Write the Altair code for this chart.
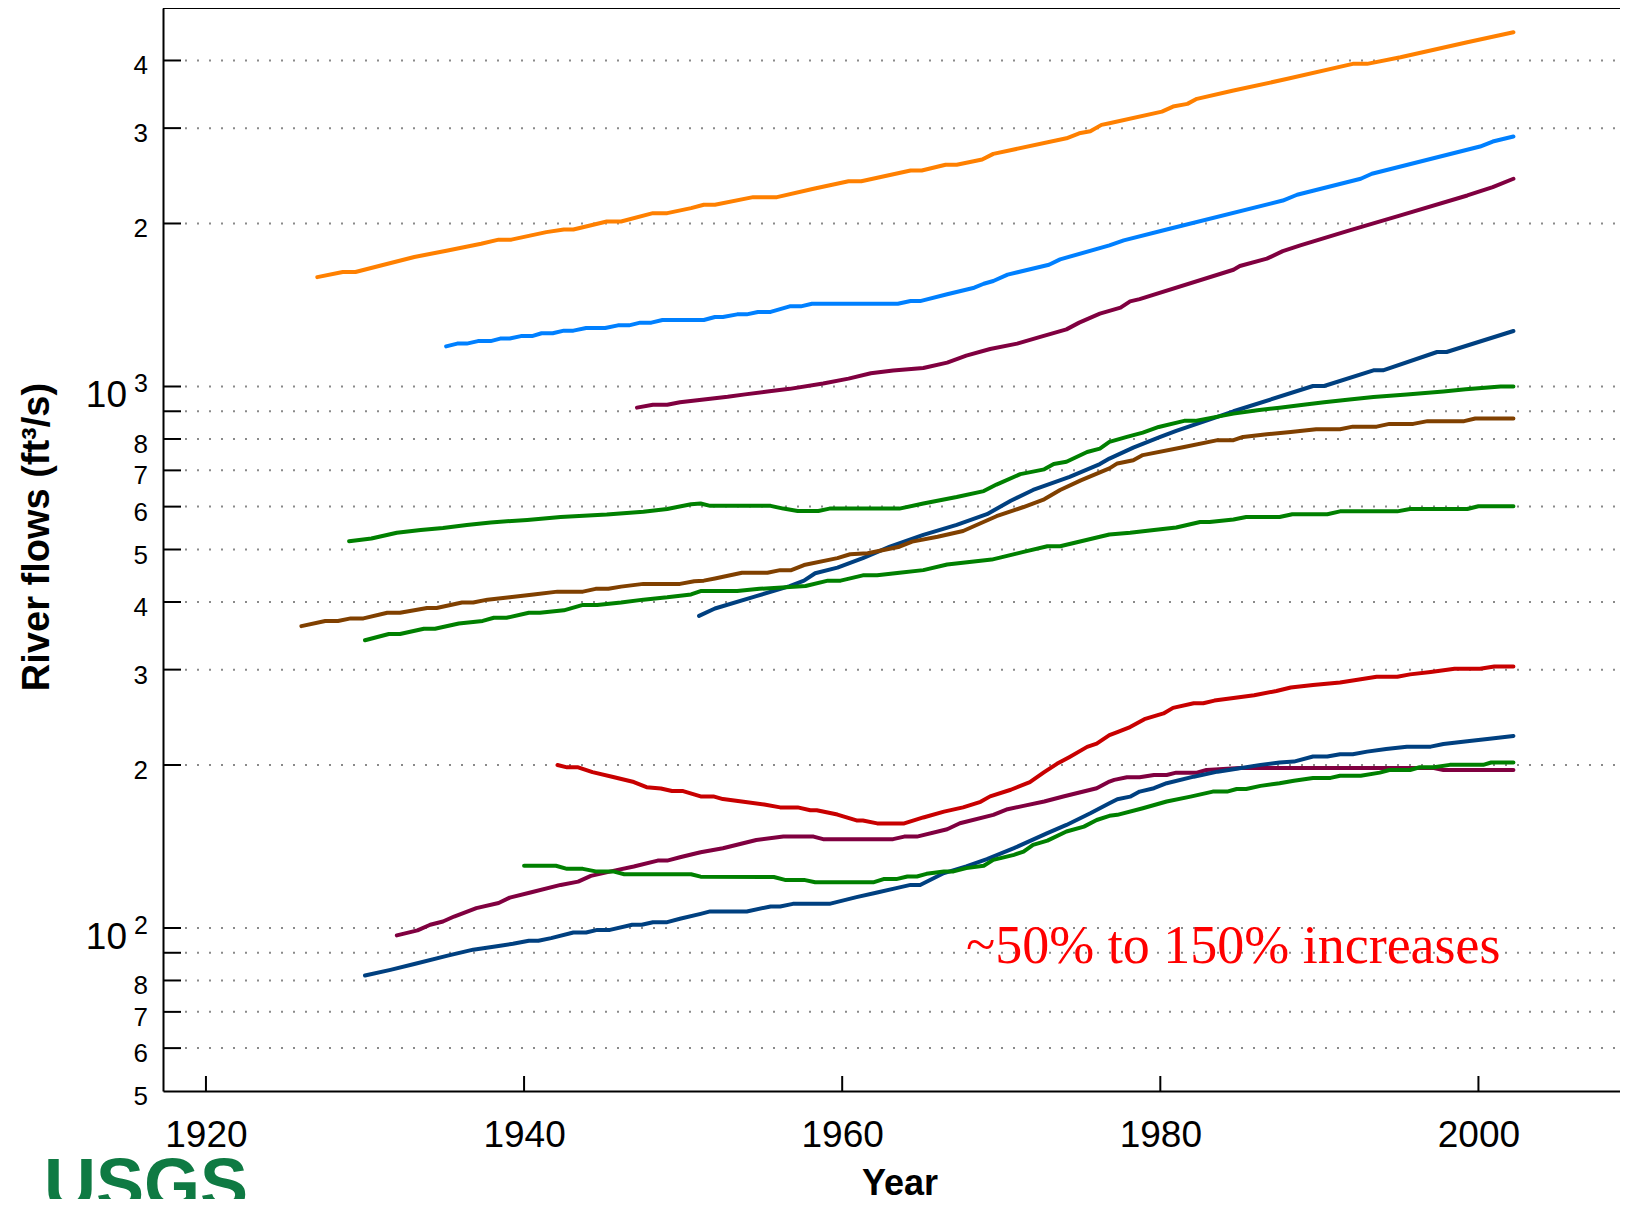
import altair as alt
import pandas as pd

# ---------------- data ----------------
names = ["S1", "S2", "S3", "S4", "S5", "S6", "S7", "S8", "S9", "S10", "S11"]
colors = ["#FF8000", "#0080FF", "#800040", "#004080", "#008000", "#804000",
          "#008000", "#C80000", "#800040", "#004080", "#008000"]

s1_years = [1927.0, 1928.6, 1929.4, 1931.0, 1933.1, 1935.2, 1937.3, 1938.4, 1939.2, 1941.4, 1942.5, 1943.1,
            1945.2, 1946.1, 1948.1, 1949.0, 1950.5, 1951.3, 1952.0, 1954.4, 1955.9, 1958.2, 1960.4, 1961.2,
            1964.3, 1965.0, 1966.5, 1967.2, 1968.8, 1969.5, 1974.1, 1974.9, 1975.6, 1976.3, 1976.8, 1980.1,
            1980.8, 1981.7, 1982.3, 1984.6, 1988.0, 1992.1, 1993.0, 1995.1, 1999.3, 2002.2]
s1_flows = [1592, 1627, 1627, 1673, 1734, 1783, 1835, 1867, 1867, 1928, 1950, 1950,
            2017, 2017, 2090, 2090, 2135, 2166, 2166, 2237, 2237, 2318, 2394, 2394,
            2506, 2506, 2567, 2567, 2625, 2689, 2873, 2935, 2960, 3042, 3063, 3218,
            3288, 3326, 3398, 3520, 3700, 3943, 3943, 4055, 4322, 4510]

s2_years = [1935.1, 1935.8, 1936.4, 1937.1, 1937.9, 1938.5, 1939.1, 1939.8, 1940.5, 1941.1, 1941.8, 1942.5,
            1943.1, 1943.9, 1945.1, 1945.9, 1946.6, 1947.3, 1948.0, 1948.7, 1951.3, 1952.0, 1952.5, 1953.4,
            1954.0, 1954.7, 1955.5, 1956.7, 1957.4, 1958.1, 1963.5, 1964.3, 1964.9, 1966.6, 1968.3, 1968.9,
            1969.5, 1970.4, 1973.0, 1973.7, 1976.8, 1977.7, 1980.4, 1987.7, 1988.6, 1992.6, 1993.3, 2000.1,
            2000.9, 2002.2]
s2_flows = [1186, 1200, 1200, 1213, 1213, 1226, 1226, 1239, 1239, 1254, 1254, 1268,
            1268, 1282, 1282, 1297, 1297, 1312, 1312, 1327, 1327, 1344, 1344, 1359,
            1359, 1373, 1373, 1406, 1406, 1422, 1422, 1438, 1438, 1480, 1522, 1548,
            1566, 1609, 1678, 1717, 1822, 1861, 1950, 2205, 2260, 2419, 2471, 2774,
            2834, 2895]

s3_years = [1947.1, 1948.1, 1949.0, 1949.8, 1951.3, 1952.8, 1953.9, 1955.3, 1956.7, 1958.8, 1960.4, 1961.8,
            1963.2, 1965.1, 1966.6, 1967.8, 1969.3, 1971.0, 1972.4, 1974.1, 1974.9, 1976.2, 1977.5, 1978.1,
            1978.7, 1984.6, 1985.0, 1986.7, 1987.7, 1988.8, 1991.9, 1995.1, 1999.3, 2000.9, 2002.2]
s3_flows = [914, 925, 925, 935, 946, 957, 967, 979, 990, 1013, 1034, 1058,
            1070, 1082, 1107, 1140, 1173, 1200, 1234, 1275, 1312, 1363, 1398, 1436,
            1450, 1643, 1669, 1722, 1778, 1822, 1942, 2070, 2253, 2334, 2419]

s4_years = [1951.0, 1952.0, 1954.6, 1956.7, 1957.6, 1958.3, 1959.7, 1961.3, 1963.0, 1965.1, 1967.2, 1969.1,
            1970.6, 1972.0, 1974.3, 1976.2, 1976.8, 1978.3, 1980.0, 1981.0, 1984.6, 1989.6, 1990.3, 1993.4,
            1994.0, 1997.4, 1998.0, 2002.2]
s4_flows = [377, 389, 410, 428, 438, 452, 463, 482, 506, 532, 555, 581,
            615, 644, 681, 719, 736, 771, 807, 828, 900, 1002, 1002, 1071,
            1071, 1158, 1158, 1266]

s5_years = [1929.0, 1930.4, 1932.0, 1933.5, 1934.9, 1936.4, 1937.9, 1940.2, 1942.3, 1945.2, 1947.5, 1949.0,
            1950.5, 1951.1, 1951.7, 1955.5, 1956.3, 1957.2, 1958.5, 1959.2, 1963.6, 1965.1, 1967.2, 1968.9,
            1969.7, 1971.2, 1972.7, 1973.3, 1974.1, 1975.4, 1976.2, 1976.8, 1977.9, 1978.9, 1979.9, 1981.5,
            1982.2, 1984.6, 1986.1, 1987.5, 1989.0, 1990.3, 1991.9, 1993.4, 1995.5, 1997.8, 1999.2, 2001.4,
            2002.2]
s5_flows = [518, 524, 537, 543, 548, 555, 561, 567, 574, 580, 587, 594,
            606, 608, 602, 602, 595, 589, 589, 595, 595, 608, 625, 641,
            659, 689, 703, 719, 726, 757, 768, 790, 807, 822, 842, 864,
            864, 891, 904, 914, 925, 935, 946, 956, 967, 979, 988, 1000,
            1000]

s6_years = [1926.0, 1927.5, 1928.3, 1929.1, 1929.9, 1931.4, 1932.2, 1933.9, 1934.5, 1936.1, 1936.8, 1937.7,
            1939.1, 1940.6, 1942.1, 1943.7, 1944.5, 1945.3, 1946.1, 1947.5, 1949.8, 1950.7, 1951.3, 1952.0,
            1953.7, 1955.3, 1956.1, 1956.8, 1957.6, 1959.7, 1960.5, 1961.6, 1963.6, 1964.4, 1966.0, 1967.6,
            1968.7, 1969.7, 1971.4, 1972.7, 1973.7, 1975.0, 1976.8, 1977.3, 1978.3, 1978.9, 1981.5, 1983.6,
            1984.6, 1985.2, 1986.7, 1988.2, 1989.8, 1991.3, 1992.1, 1993.6, 1994.4, 1995.9, 1996.8, 1999.1,
            1999.8, 2002.2]
s6_flows = [361, 369, 369, 373, 373, 382, 382, 390, 390, 399, 399, 404,
            408, 413, 418, 418, 423, 423, 427, 432, 432, 437, 438, 442,
            453, 453, 458, 458, 468, 482, 490, 492, 506, 517, 528, 541,
            559, 576, 599, 619, 644, 671, 706, 721, 731, 747, 773, 796,
            796, 807, 816, 824, 834, 834, 843, 843, 853, 853, 863, 863,
            873, 873]

s7_years = [1930.0, 1931.5, 1932.2, 1933.7, 1934.4, 1935.9, 1937.4, 1938.1, 1938.9, 1940.3, 1941.0, 1942.5,
            1943.7, 1944.6, 1946.1, 1947.5, 1949.0, 1950.5, 1951.1, 1953.4, 1954.8, 1957.7, 1959.1, 1959.9,
            1961.3, 1962.2, 1963.6, 1965.1, 1966.6, 1968.0, 1969.4, 1971.4, 1972.9, 1973.7, 1976.8, 1978.1,
            1979.6, 1981.0, 1982.5, 1983.1, 1984.6, 1985.4, 1987.5, 1988.3, 1990.5, 1991.3, 1994.9, 1995.7,
            1999.3, 2000.0, 2002.2]
s7_flows = [340, 349, 349, 357, 357, 365, 369, 374, 374, 382, 382, 386,
            395, 395, 399, 404, 408, 413, 419, 419, 423, 428, 438, 438,
            448, 448, 453, 458, 469, 474, 479, 495, 507, 507, 533, 537,
            543, 549, 562, 562, 568, 574, 574, 581, 581, 588, 588, 594,
            594, 601, 601]

s8_years = [1942.1, 1942.7, 1943.4, 1944.3, 1945.6, 1946.9, 1947.7, 1948.6, 1949.3, 1950.0, 1951.1, 1951.9,
            1952.5, 1953.8, 1955.1, 1956.1, 1957.2, 1958.0, 1958.4, 1959.7, 1960.9, 1961.3, 1962.2, 1963.9,
            1965.1, 1966.4, 1967.6, 1968.7, 1969.3, 1970.6, 1971.8, 1972.7, 1973.5, 1974.3, 1975.4, 1976.0,
            1976.8, 1977.3, 1978.1, 1979.0, 1980.2, 1980.8, 1982.1, 1982.7, 1983.4, 1984.6, 1985.9, 1987.3,
            1988.2, 1989.6, 1991.3, 1992.6, 1993.6, 1994.9, 1995.7, 1997.0, 1998.5, 2000.1, 2001.0, 2002.2]
s8_flows = [200, 198, 198, 194, 190, 186, 182, 181, 179, 179, 175, 175,
            173, 171, 169, 167, 167, 165, 165, 162, 158, 158, 156, 156,
            160, 164, 167, 171, 175, 180, 186, 194, 201, 207, 216, 219,
            227, 230, 235, 243, 249, 255, 260, 260, 263, 266, 269, 274,
            278, 281, 284, 288, 291, 291, 294, 297, 301, 301, 304, 304]

s9_years = [1932.0, 1933.3, 1934.1, 1934.9, 1935.6, 1937.0, 1938.4, 1939.1, 1940.4, 1942.3, 1943.4, 1944.2,
            1945.6, 1946.9, 1948.4, 1949.0, 1949.8, 1951.1, 1952.5, 1954.6, 1956.3, 1958.2, 1958.8, 1963.2,
            1963.9, 1964.7, 1966.6, 1967.4, 1969.5, 1970.4, 1971.4, 1972.7, 1973.9, 1976.0, 1976.8, 1977.1,
            1977.9, 1978.7, 1979.6, 1980.4, 1981.0, 1982.3, 1982.9, 1985.0, 1997.2, 1997.8, 2002.2]
s9_flows = [96.9, 99.0, 101.4, 102.8, 105.0, 108.8, 111.2, 113.8, 116.3, 120.1, 121.8, 124.8,
            127.5, 129.9, 133.2, 133.2, 135.1, 138.0, 140.4, 145.4, 147.5, 147.5, 145.9, 145.9,
            147.5, 147.5, 152.2, 156.1, 161.8, 165.7, 168.1, 171.2, 174.9, 181.2, 186.4, 187.7,
            189.8, 189.8, 191.7, 191.7, 193.6, 193.6, 195.8, 197.5, 197.5, 195.8, 195.8]

s10_years = [1930.0, 1931.6, 1933.1, 1935.2, 1936.8, 1938.5, 1939.3, 1940.3, 1940.9, 1941.7, 1943.1, 1943.9,
             1944.6, 1945.4, 1946.8, 1947.4, 1948.1, 1949.0, 1949.8, 1951.1, 1951.7, 1954.0, 1955.5, 1956.1,
             1956.9, 1959.2, 1960.9, 1962.2, 1963.4, 1964.3, 1964.9, 1966.4, 1967.8, 1969.1, 1970.8, 1972.9,
             1974.1, 1975.6, 1976.8, 1977.3, 1978.1, 1978.7, 1979.6, 1980.4, 1982.1, 1983.6, 1984.6, 1986.3,
             1987.5, 1988.4, 1989.6, 1990.5, 1991.3, 1992.1, 1993.0, 1994.2, 1995.5, 1997.0, 1997.8, 1999.3,
             2000.7, 2002.2]
s10_flows = [81.7, 83.7, 85.8, 88.9, 91.2, 92.7, 93.5, 94.7, 94.7, 95.8, 98.1, 98.1,
             99.2, 99.2, 101.4, 101.4, 102.5, 102.5, 104.0, 106.2, 107.3, 107.3, 109.6, 109.6,
             110.8, 110.8, 114.0, 116.3, 118.5, 120.1, 120.1, 126.3, 129.9, 134.0, 140.4, 149.7,
             155.0, 162.9, 170.0, 172.9, 174.8, 178.6, 181.2, 185.1, 190.3, 194.4, 196.4, 200.1,
             202.1, 202.9, 207.3, 207.3, 209.4, 209.4, 211.7, 214.1, 216.2, 216.2, 218.7, 221.2,
             223.6, 226.3]

s11_years = [1940.0, 1942.0, 1942.7, 1943.7, 1944.5, 1945.6, 1946.3, 1950.5, 1951.1, 1955.7, 1956.4, 1957.6,
             1958.3, 1962.0, 1962.6, 1963.4, 1964.1, 1964.7, 1965.3, 1966.4, 1967.0, 1967.8, 1968.9, 1969.5,
             1970.8, 1971.4, 1972.0, 1972.9, 1974.1, 1975.2, 1976.0, 1976.8, 1977.3, 1978.9, 1980.4, 1981.9,
             1983.3, 1984.2, 1984.8, 1985.4, 1986.3, 1987.5, 1988.4, 1989.6, 1990.7, 1991.3, 1992.6, 1993.8,
             1994.4, 1995.7, 1996.3, 1997.2, 1998.2, 2000.3, 2000.8, 2002.2]
s11_flows = [130.3, 130.3, 128.6, 128.6, 127.2, 127.2, 125.7, 125.7, 124.4, 124.2, 122.7, 122.7,
             121.5, 121.5, 123.1, 123.1, 124.5, 124.5, 125.9, 127.2, 127.2, 129.0, 130.3, 133.6,
             136.5, 138.4, 142.4, 145.0, 150.7, 153.9, 158.3, 161.1, 161.8, 166.4, 171.2, 174.8,
             178.6, 178.6, 180.6, 180.6, 183.0, 185.1, 187.1, 189.3, 189.3, 191.1, 191.1, 193.6,
             195.8, 195.8, 198.1, 198.1, 200.1, 200.1, 202.1, 202.1]

year_lists = [s1_years, s2_years, s3_years, s4_years, s5_years, s6_years,
              s7_years, s8_years, s9_years, s10_years, s11_years]
flow_lists = [s1_flows, s2_flows, s3_flows, s4_flows, s5_flows, s6_flows,
              s7_flows, s8_flows, s9_flows, s10_flows, s11_flows]

x_tick_years = [1920, 1940, 1960, 1980, 2000]
grid_values = [60, 70, 80, 90, 100, 200, 300, 400, 500, 600, 700, 800, 900,
               1000, 2000, 3000, 4000]
small_label_values = [4000, 3000, 2000, 800, 700, 600, 500, 400, 300, 200, 80, 70, 60, 50]
small_label_texts = ["4", "3", "2", "8", "7", "6", "5", "4", "3", "2", "8", "7", "6", "5"]
power_values = [1000, 100]
power_base = ["10", "10"]
power_exp = ["3", "2"]

y_title = "River flows (ft\u00b3/s)"
x_title = "Year"
note_text = "~50% to 150% increases"
logo_text = "USGS"

# ---------------- chart ----------------
W, H = 1457, 1083
x_scale = alt.Scale(domain=[1917.3, 2008.9], nice=False, zero=False)
y_scale = alt.Scale(type="log", domain=[50, 5000], nice=False)

x_axis = alt.Axis(values=x_tick_years, format="d", title=None, labelFont="Liberation Sans",
                  labelFontSize=37, labelColor="black", labelPadding=26, ticks=False, tickSize=0,
                  grid=False, domainColor="black", domainWidth=2, labelFlush=False,
                  labelOverlap=False)
y_axis = alt.Axis(title=None, labels=False, ticks=False, tickSize=0, grid=False,
                  domainColor="black", domainWidth=2)

frames = [pd.DataFrame({"year": yrs, "flow": fl, "series": nm})
          for nm, yrs, fl in zip(names, year_lists, flow_lists)]
df = pd.concat(frames, ignore_index=True)

Y = lambda: alt.Y("flow:Q", scale=y_scale, axis=y_axis)
X = lambda: alt.X("year:Q", scale=x_scale, axis=x_axis)

grid = alt.Chart(pd.DataFrame({"flow": grid_values})).mark_rule(
    color="#8a8a8a", strokeWidth=2, strokeDash=[2, 10]
).encode(y=Y(), x=alt.value(22), x2=alt.value(W))

lines = alt.Chart(df).mark_line(strokeWidth=4, strokeCap="round", strokeJoin="round").encode(
    x=X(), y=Y(),
    color=alt.Color("series:N", scale=alt.Scale(domain=names, range=colors), legend=None),
)

yticks = alt.Chart(pd.DataFrame({"flow": grid_values})).mark_rule(
    color="black", strokeWidth=2
).encode(y=Y(), x=alt.value(0), x2=alt.value(18))

xticks = alt.Chart(pd.DataFrame({"year": x_tick_years})).mark_rule(
    color="black", strokeWidth=2
).encode(x=X(), y=alt.value(H), y2=alt.value(H - 15))

top_border = alt.Chart(pd.DataFrame({"k": [0]})).mark_rule(color="black", strokeWidth=2).encode(
    x=alt.value(0), x2=alt.value(W), y=alt.value(0)
)

small_labels = alt.Chart(pd.DataFrame({"flow": small_label_values, "label": small_label_texts})).mark_text(
    align="right", baseline="middle", dy=6, fontSize=26, font="Liberation Sans", color="black"
).encode(y=Y(), x=alt.value(-15), text="label:N")

base_labels = alt.Chart(pd.DataFrame({"flow": power_values, "label": power_base})).mark_text(
    align="right", baseline="middle", dy=10, fontSize=37, font="Liberation Sans", color="black"
).encode(y=Y(), x=alt.value(-36), text="label:N")

exp_labels = alt.Chart(pd.DataFrame({"flow": power_values, "label": power_exp})).mark_text(
    align="right", baseline="middle", dy=-2, fontSize=25, font="Liberation Sans", color="black"
).encode(y=Y(), x=alt.value(-15), text="label:N")

note = alt.Chart(pd.DataFrame({"t": [note_text]})).mark_text(
    align="left", baseline="alphabetic", font="Liberation Serif", fontSize=54, color="#FF0000"
).encode(x=alt.value(803), y=alt.value(955), text="t:N")

ytitle = alt.Chart(pd.DataFrame({"t": [y_title]})).mark_text(
    align="center", baseline="alphabetic", angle=270, font="Liberation Sans", fontSize=38,
    fontWeight="bold", color="black"
).encode(x=alt.value(-114), y=alt.value(529), text="t:N")

xtitle = alt.Chart(pd.DataFrame({"t": [x_title]})).mark_text(
    align="center", baseline="alphabetic", font="Liberation Sans", fontSize=36,
    fontWeight="bold", color="black"
).encode(x=alt.value(737), y=alt.value(1187), text="t:N")

logo = alt.Chart(pd.DataFrame({"t": [logo_text]})).mark_text(
    align="left", baseline="alphabetic", font="Liberation Sans", fontSize=72,
    fontWeight="bold", color="#0f7a43"
).encode(x=alt.value(-119), y=alt.value(1201), text="t:N")

chart = alt.layer(
    grid, lines, yticks, xticks, top_border, small_labels, base_labels, exp_labels,
    note, ytitle, xtitle, logo
).properties(
    width=W, height=H,
    autosize=alt.AutoSizeParams(type="none"),
    padding={"left": 155, "top": 0, "right": 0, "bottom": 108},
    background="white",
).configure_view(stroke=None)

chart.save("out.html", embed_options={"renderer": "svg", "actions": False})
